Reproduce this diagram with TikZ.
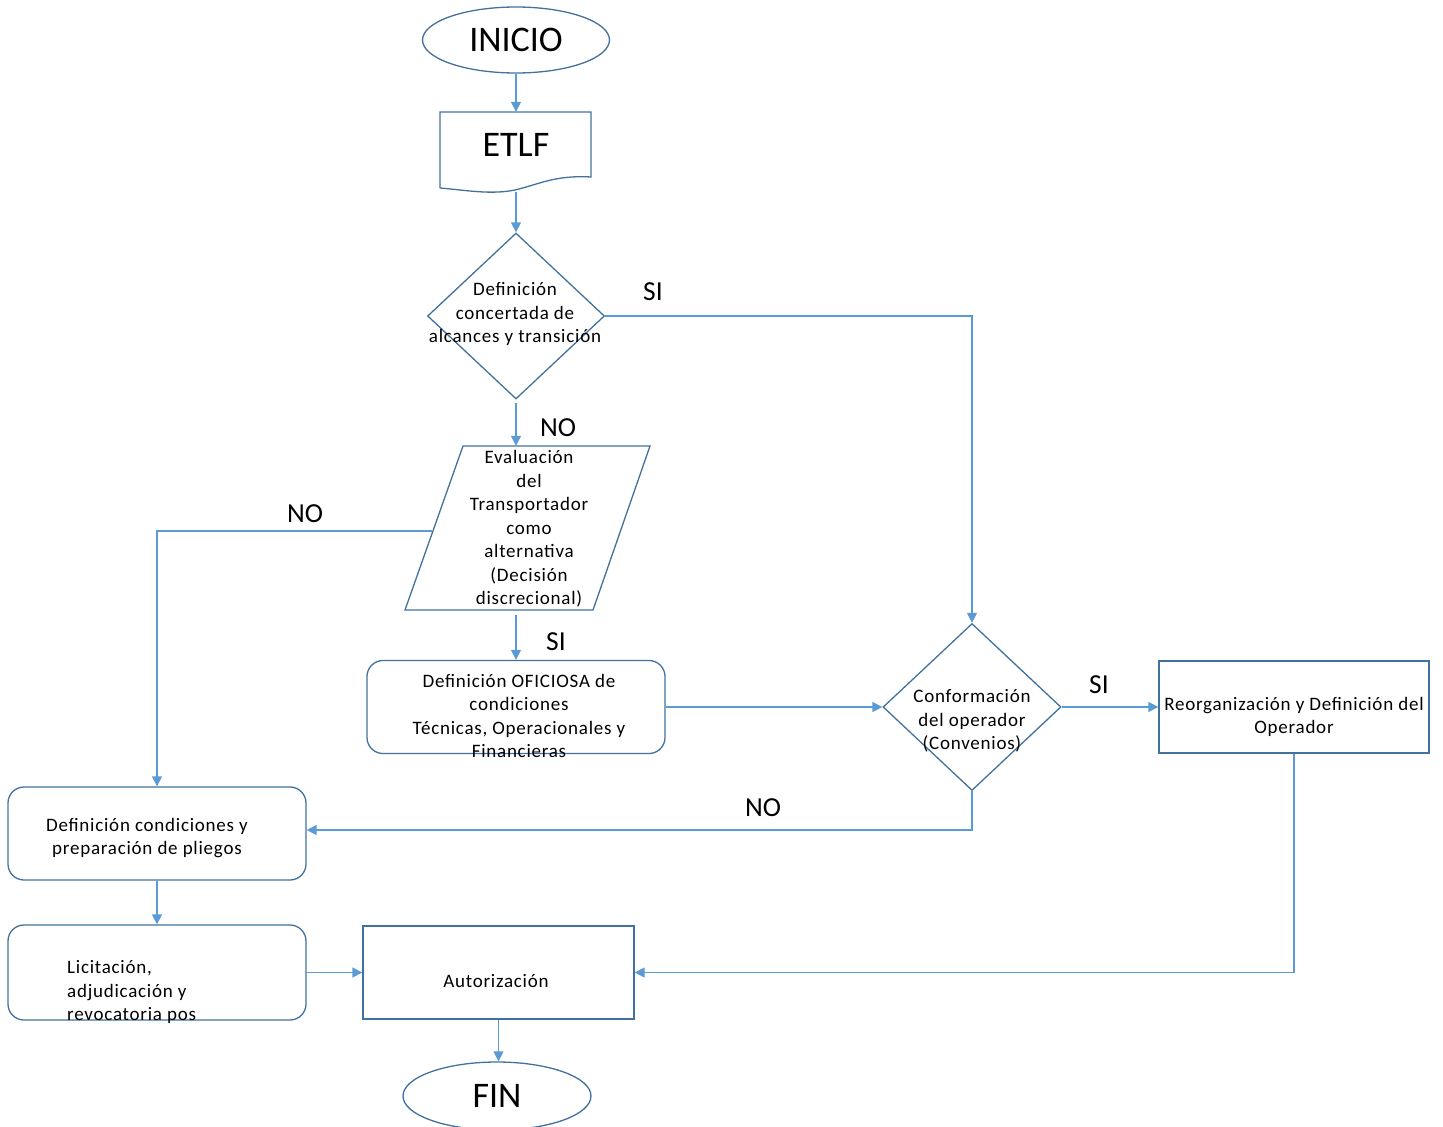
\documentclass[tikz,border=0pt]{standalone}
\usepackage{fontspec}
\setmainfont{Carlito}
\usetikzlibrary{shapes.geometric,arrows.meta}
\definecolor{shapeblue}{HTML}{41719C}
\definecolor{linkblue}{HTML}{5B9BD5}
\begin{document}
\begin{tikzpicture}[x=1pt,y=-1pt,
  shp/.style={draw=shapeblue, line width=1.3pt},
  rbox/.style={shp, rectangle, rounded corners=16pt, inner sep=0pt},
  sbox/.style={shp, rectangle, inner sep=0pt},
  lnk/.style={draw=linkblue, line width=1.3pt, -{Triangle[length=10pt,width=10pt]}},
  txt/.style={inner sep=0pt, align=center, font=\fontsize{19}{23.5}\selectfont\addfontfeatures{LetterSpace=4}},
  big/.style={font=\fontsize{36}{40}\selectfont},
  lab/.style={inner sep=0pt, font=\fontsize{27.5}{30}\selectfont}]
\useasboundingbox (0,0) rectangle (1443,1127);

% start
\node[shp, ellipse, minimum width=187pt, minimum height=66pt, inner sep=0pt, big] (inicio) at (516,40) {INICIO};

% document ETLF
\node[minimum width=151pt, minimum height=66pt, inner sep=0pt, big] (etlf) at (516,145) {ETLF};
\draw[shp] (440,188) -- (440,112) -- (591,112) -- (591,177)
  .. controls (555,175) and (540,184) .. (515,190)
  .. controls (490,195) and (465,190) .. (440,188);
\coordinate (etlfbot) at (516,192);

% decision 1
\node[shp, diamond, minimum width=177pt, minimum height=166pt, inner sep=0pt] (d1) at (516,316) {};
\node[txt] (d1t) at (515,314) {Definición\\concertada de\\alcances y transición};

% parallelogram
\node[minimum width=190pt, minimum height=164pt, inner sep=0pt] (ev) at (527.5,528) {};
\draw[shp] (463,446) -- (650,446) -- (593,610) -- (405,610) -- cycle;
\node[txt] (evt) at (529,529) {Evaluación\\del\\Transportador\\como\\alternativa\\(Decisión\\discrecional)};
\coordinate (evleft) at (432,531);

% oficiosa
\node[rbox, minimum width=298pt, minimum height=93pt] (of) at (516,707) {};
\node[txt] (oft) at (519,716) {Definición OFICIOSA de\\condiciones\\Técnicas, Operacionales y\\Financieras};

% decision 2
\node[shp, diamond, minimum width=178pt, minimum height=167pt, inner sep=0pt] (d2) at (972,707) {};
\node[txt] (d2t) at (972,721) {Conformación\\del operador\\(Convenios)};

% reorganizacion
\node[sbox, minimum width=270pt, minimum height=92pt] (ro) at (1294,707) {};
\node[txt] (rot) at (1294,717) {Reorganización y Definición del\\Operador};

% definicion condiciones
\node[rbox, minimum width=298pt, minimum height=93pt] (dc) at (157,833.5) {};
\node[txt] (dct) at (147,838) {Definición condiciones y\\preparación de pliegos};

% licitacion
\node[rbox, minimum width=298pt, minimum height=95pt] (li) at (157,972.5) {};
\node[txt, align=left, anchor=west] (lit) at (67,992) {Licitación,\\adjudicación y\\revocatoria pos};

% autorizacion
\node[sbox, minimum width=271pt, minimum height=93pt] (au) at (498.5,972.5) {};
\node[txt] (aut) at (496,981) {Autorización};

% end
\node[shp, ellipse, minimum width=188pt, minimum height=68pt, inner sep=0pt, big] (fin) at (497,1096) {FIN};

% connectors
\draw[lnk] (inicio.south) -- (etlf.north);
\draw[lnk] (etlfbot) -- (d1.north);
\draw[lnk] (d1.east) -| (d2.north);
\draw[lnk] ([yshift=-3pt]d1.south) -- (d1.south |- ev.north);
\draw[lnk] (evleft) -| (dc.north);
\draw[lnk] ([yshift=-5pt]d1.south |- ev.south) -- (of.north);
\draw[lnk] (of.east) -- (d2.west);
\draw[lnk] (d2.east) -- (ro.west);
\draw[lnk] (ro.south) |- (au.east);
\draw[lnk] (d2.south) |- ([yshift=3.5pt]dc.east);
\draw[lnk] (dc.south) -- (li.north);
\draw[lnk] (li.east) -- (au.west);
\draw[lnk] (au.south) -- (au.south |- fin.north);

% labels
\node[lab] (si1) at (653,292) {SI};
\node[lab] (no1) at (558,428) {NO};
\node[lab] (no2) at (305,514) {NO};
\node[lab] (si2) at (556,642) {SI};
\node[lab] (si3) at (1099,685) {SI};
\node[lab] (no3) at (763,808) {NO};
\end{tikzpicture}
\end{document}
